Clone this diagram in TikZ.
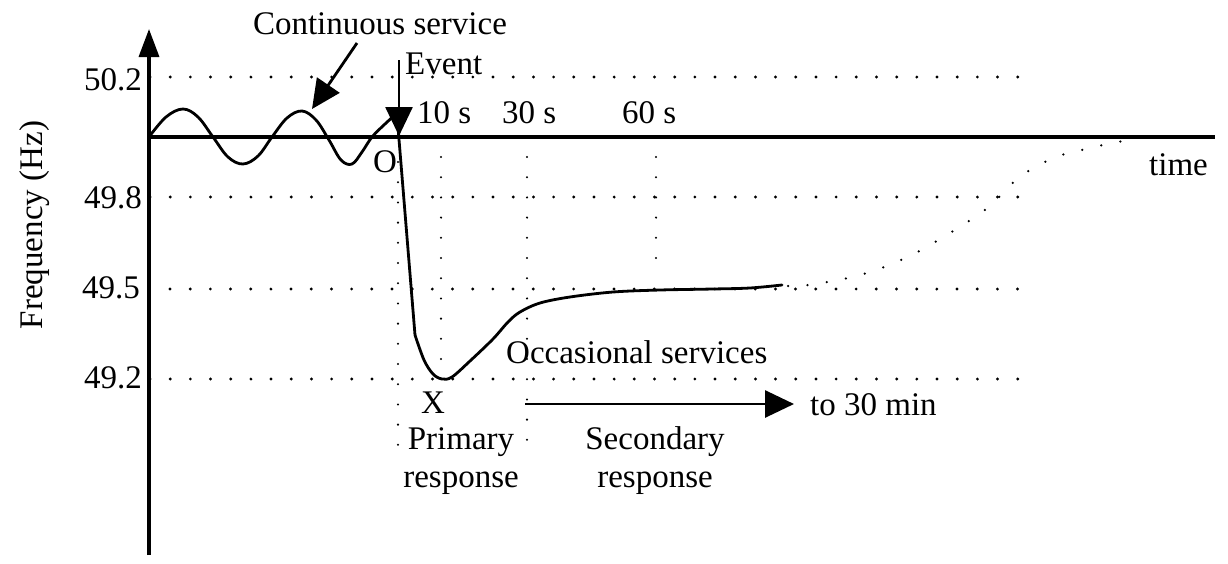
\documentclass[tikz,border=0pt]{standalone}
\usepackage{fontspec}
\setmainfont{Liberation Serif}
\usetikzlibrary{arrows.meta}
\begin{document}
\begin{tikzpicture}[x=1pt,y=-1pt,
  lbl/.style={font=\fontsize{33}{39}\selectfont, inner sep=0pt},
  axisline/.style={line width=3.4pt},
  curve/.style={line width=2.8pt, line join=round, line cap=round},
  hgrid/.style={line width=3.2pt, line cap=round, dash pattern=on 0pt off 20.18pt},
  vgrid/.style={line width=2.3pt, line cap=round, dash pattern=on 0pt off 20.2pt},
  retdots/.style={line width=2.5pt, line cap=round, dash pattern=on 0pt off 19.5pt},
  bigtip/.style={-{Triangle[length=29pt,width=27pt]}},
  axtip/.style={-{Triangle[length=28pt,width=20pt]}},
]
\useasboundingbox (0,0) rectangle (1228,563);

% grid lines
\draw[hgrid] (150,77) -- (1019,77);
\draw[hgrid] (150,197) -- (1019,197);
\draw[hgrid] (170,289) -- (1019,289);
\draw[hgrid] (150,379) -- (1019,379);
\draw[vgrid] (398,162) -- (398,447);
\draw[vgrid] (441,157) -- (441,370);
\draw[vgrid] (527,157) -- (527,440);
\draw[vgrid] (656,157) -- (656,278);

% axes
\coordinate (yBot) at (149,555);
\coordinate (yTop) at (149,29);
\coordinate (tLeft) at (147,137);
\coordinate (tRight) at (1215,137);
\draw[axisline, axtip] (yBot) -- (yTop);
\draw[axisline] (tLeft) -- (tRight);

% tick labels
\node[lbl, anchor=base east] (l502) at (142,90) {50.2};
\node[lbl, anchor=base east] (l498) at (142,208) {49.8};
\node[lbl, anchor=base east] (l495) at (140,298) {49.5};
\node[lbl, anchor=base east] (l492) at (142,388) {49.2};
\node[lbl, rotate=90] (ylab) at (35,225) {Frequency (Hz)};
\node[lbl, anchor=base west] (tlab) at (1149,175) {time};
\node[lbl, anchor=base west] (t10) at (417,123) {10 s};
\node[lbl, anchor=base west] (t30) at (502,123) {30 s};
\node[lbl, anchor=base west] (t60) at (622,123) {60 s};

% continuous wave
\draw[curve] plot[smooth, tension=0.6] coordinates {(149,137) (166,117) (183,109) (198,117) (213,137) (228,157) (243,164) (258,156) (272,137) (287,118) (302,111) (316,120) (329,140) (341,160) (352,164) (362,152) (372,137) (385,124) (396,114)};

% frequency response
\draw[curve] (397,115) -- (415,335);
\draw[curve] plot[smooth, tension=0.55] coordinates {(415,335) (424,360) (433,374) (442,379) (452,377) (470,361) (493,339) (508,322) (520,312) (540,303) (570,297) (613,292) (660,290) (713,289) (750,288) (782,285)};

% recovery (dotted)
\draw[retdots] plot[smooth, tension=0.6] coordinates {(788,286) (808,285) (828,282) (848,278) (867,273) (887,266) (905,258) (923,249) (940,239) (958,228) (975,217) (991,205) (1005,191) (1019,177) (1036,167) (1055,157) (1074,152) (1094,147) (1113,143) (1133,139)};

% Event arrow
\node[lbl, anchor=base west] (event) at (405,74) {Event};
\coordinate (evTop) at (399,60);
\coordinate (evTip) at (399,136);
\draw[line width=2.6pt, bigtip] (evTop) -- (evTip);
\node[lbl, anchor=base west] (olab) at (373,172) {O};

% Continuous service
\node[lbl, anchor=base] (cs) at (380,34) {Continuous service};
\coordinate (csStart) at (357,43);
\coordinate (csTip) at (312,109);
\draw[line width=2.8pt, bigtip] (csStart) -- (csTip);

% lower labels
\node[lbl, anchor=base west] (occ) at (506,363) {Occasional services};
\node[lbl, anchor=base] (xlab) at (433,413) {X};
\node[lbl, anchor=base] (prim1) at (461,449) {Primary};
\node[lbl, anchor=base] (prim2) at (461,487) {response};
\node[lbl, anchor=base] (sec1) at (655,449) {Secondary};
\node[lbl, anchor=base] (sec2) at (655,487) {response};
\node[lbl, anchor=base west] (to30) at (810,415) {to 30 min};
\coordinate (arrStart) at (525,404);
\coordinate (arrEnd) at (794,404);
\draw[line width=2.8pt, bigtip] (arrStart) -- (arrEnd);
\end{tikzpicture}
\end{document}
